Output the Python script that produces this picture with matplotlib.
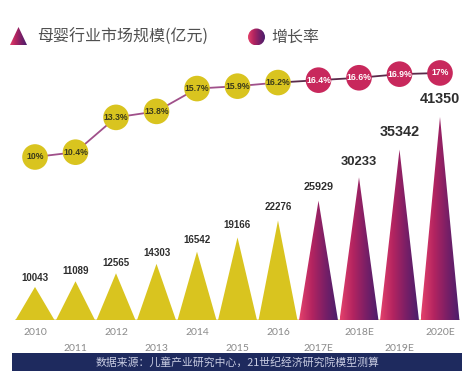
import matplotlib
matplotlib.use("Agg")
import matplotlib.pyplot as plt
import numpy as np
from matplotlib.patches import Polygon, Rectangle, Circle
from matplotlib.colors import LinearSegmentedColormap

plt.rcParams['font.family'] = ['Noto Sans CJK SC', 'DejaVu Sans']

years = ["2010", "2011", "2012", "2013", "2014", "2015", "2016",
         "2017E", "2018E", "2019E", "2020E"]
market = [10043, 11089, 12565, 14303, 16542, 19166, 22276,
          25929, 30233, 35342, 41350]
growth = [10.0, 10.4, 13.3, 13.8, 15.7, 15.9, 16.2, 16.4, 16.6, 16.9, 17.0]
growth_labels = ["10%", "10.4%", "13.3%", "13.8%", "15.7%", "15.9%", "16.2%",
                 "16.4%", "16.6%", "16.9%", "17%"]
n_actual = 7
legend_bar = "母婴行业市场规模(亿元)"
legend_line = "增长率"
source = "数据来源：儿童产业研究中心，21世纪经济研究院模型测算"

# label styling (not data)
label_fs = [7.0, 7.0, 7.0, 7.0, 7.0, 7.0, 7.0, 7.8, 9.4, 10.4, 10.4]
NUMFONT = ["Liberation Sans", "DejaVu Sans"]

YELLOW = "#D9C41F"
PINK = "#C8285C"
grad_cmap = LinearSegmentedColormap.from_list(
    "g", ["#E4426C", "#B42460", "#7A1F66", "#4A1E6C"])

W, H = 472, 373
fig = plt.figure(figsize=(W / 100, H / 100), dpi=100)
fig.patch.set_facecolor("white")

base_px = 320
top_px = 60
ax = fig.add_axes([14.75 / W, (H - base_px) / H, 445.5 / W, (base_px - top_px) / H])
ax.set_facecolor("none")
for s in ax.spines.values():
    s.set_visible(False)

ymin, ymax = 3960, 51840
x = np.arange(len(years))
hw = 0.48
grad = np.linspace(0, 1, 256).reshape(1, -1)
for i, v in enumerate(market):
    verts = [(i - hw, ymin), (i, v), (i + hw, ymin)]
    if i < n_actual:
        ax.add_patch(Polygon(verts, closed=True, facecolor=YELLOW,
                             edgecolor="none", zorder=2))
    else:
        poly = Polygon(verts, closed=True, facecolor="none",
                       edgecolor="none", zorder=2)
        ax.add_patch(poly)
        im = ax.imshow(grad, cmap=grad_cmap, aspect="auto",
                       extent=[i - hw, i + hw, ymin, v], zorder=2,
                       interpolation="bilinear")
        im.set_clip_path(poly)
    ax.annotate(str(v), (i, v), xytext=(0, 3 + 0.5 * i),
                textcoords="offset points", ha="center", va="bottom",
                fontsize=label_fs[i], fontweight="bold", color="#2E2E2E",
                family=NUMFONT, zorder=5)

ax.plot([-0.5, 10.5], [ymin, ymin], color="#E8DFA0", lw=1.2, zorder=1)
ax.set_xlim(-0.5, 10.5)
ax.set_ylim(ymin, ymax)
ax.set_yticks([])
ax.set_xticks(x)
ax.set_xticklabels([])
ax.tick_params(length=0)
for i, lab in enumerate(years):
    ax.annotate(lab, (i, ymin), xytext=(0, -6 if i % 2 == 0 else -17),
                textcoords="offset points", ha="center", va="top",
                fontsize=7.5, color="#8A8A8A", family=["Lato", "DejaVu Sans"],
                annotation_clip=False)

ax2 = ax.twinx()
for s in ax2.spines.values():
    s.set_visible(False)
ax2.set_ylim(-3.58, 18.08)
ax2.set_yticks([])
ax2.plot(x[:n_actual], growth[:n_actual], color="#A0508A", lw=1.3, zorder=3)
ax2.plot(x[n_actual - 1:], growth[n_actual - 1:], color="#5A2A4A", lw=1.3, zorder=3)
cols = [YELLOW if i < n_actual else PINK for i in range(len(years))]
ax2.scatter(x, growth, s=340, c=cols, edgecolors="none", zorder=4)
for i, (g, lab) in enumerate(zip(growth, growth_labels)):
    ax2.text(i, g, lab, ha="center", va="center", fontsize=6.2,
             fontweight="bold", color="#3A3A1A" if i < n_actual else "white",
             family=NUMFONT, zorder=5)

# legend
lax = fig.add_axes([0, 0, 1, 1], facecolor="none")
lax.set_xlim(0, W)
lax.set_ylim(H, 0)
lax.axis("off")
tri = Polygon([(10, 45), (18.5, 27), (27, 45)], closed=True,
              facecolor="none", edgecolor="none")
lax.add_patch(tri)
im = lax.imshow(grad, cmap=grad_cmap, aspect="auto", extent=[10, 27, 45, 27],
                interpolation="bilinear")
im.set_clip_path(tri)
lax.text(37, 37, legend_bar, fontsize=11.5, color="#505050",
         ha="left", va="center")
circ = Circle((256.5, 37), 8.5, facecolor="none", edgecolor="none")
lax.add_patch(circ)
im2 = lax.imshow(grad, cmap=grad_cmap, aspect="auto",
                 extent=[248, 265, 45.5, 28.5], interpolation="bilinear")
im2.set_clip_path(circ)
lax.text(271, 37, legend_line, fontsize=11.5, color="#505050",
         ha="left", va="center")

# source band
lax.add_patch(Rectangle((12, 353), 450, 18, facecolor="#1E2A5E", edgecolor="none"))
lax.text(238, 362, source, fontsize=7.8, color="#C9CDE2", ha="center",
         va="center")
lax.set_xlim(0, W)
lax.set_ylim(H, 0)

fig.savefig("out.png", dpi=100, facecolor="white")
